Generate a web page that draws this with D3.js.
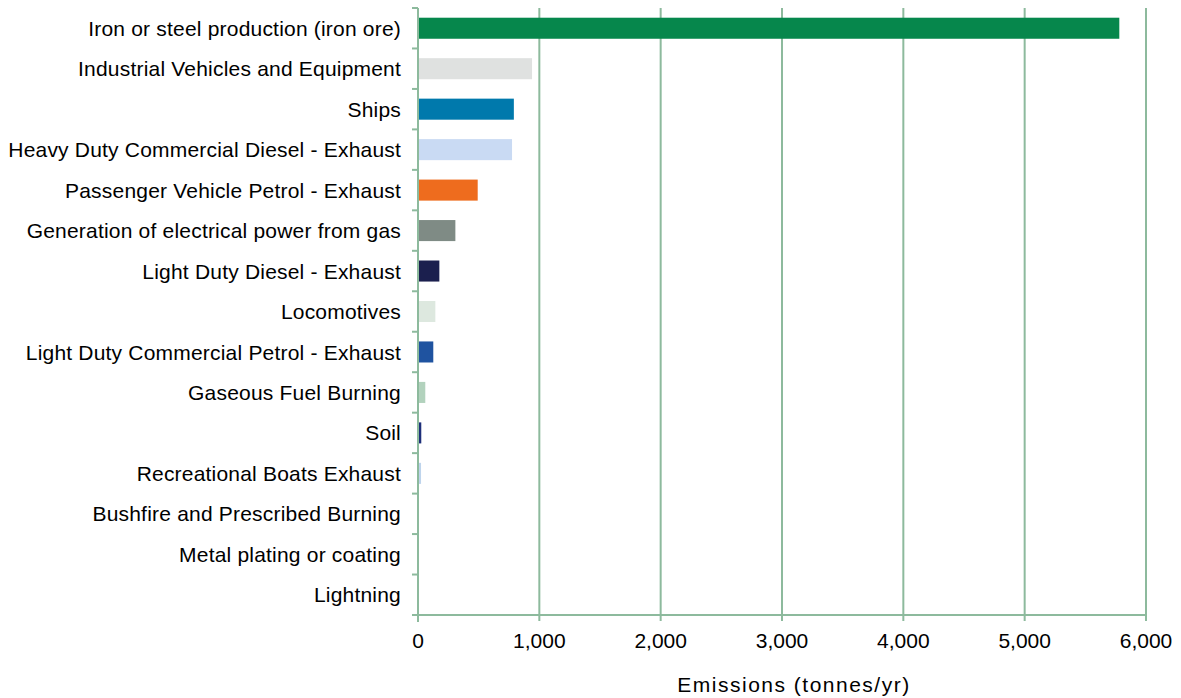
<!DOCTYPE html>
<html><head><meta charset="utf-8">
<script src="https://cdn.jsdelivr.net/npm/d3@7"></script>
<style>body{margin:0;background:#fff;}svg{display:block;font-family:"Liberation Sans",Arial,sans-serif;}</style>
</head><body><svg id="c" width="1181" height="698"></svg>
<script>
const categories = ["Iron or steel production (iron ore)","Industrial Vehicles and Equipment","Ships","Heavy Duty Commercial Diesel - Exhaust","Passenger Vehicle Petrol - Exhaust","Generation of electrical power from gas","Light Duty Diesel - Exhaust","Locomotives","Light Duty Commercial Petrol - Exhaust","Gaseous Fuel Burning","Soil","Recreational Boats Exhaust","Bushfire and Prescribed Burning","Metal plating or coating","Lightning"];
const values = [5780, 940, 790, 775, 492, 308, 176, 143, 126, 60, 27, 25, 1, 0.5, 0.3];
const colors = ["#06874C","#DFE1E0","#0079AC","#C9DAF3","#EE6C1E","#7F8B85","#1B1F4E","#DDE8DF","#1F53A0","#B2D2BD","#1E2F7A","#BED4EC","#E0E0E0","#E0E0E0","#E0E0E0"];
const xTicks = [0,1000,2000,3000,4000,5000,6000];
const xTitle = "Emissions (tonnes/yr)";

const svg = d3.select("#c");
const L = 418, R = 1146, T = 8, B = 615;
const gridColor = "#8DBA9D";
const x = d3.scaleLinear().domain([0,6000]).range([L,R]);
const y = d3.scaleBand().domain(categories).range([T,B]).paddingInner(0.48).paddingOuter(0.24);
const yb = d3.scaleBand().domain(categories).range([T,B]);

// grid
svg.append("g").selectAll("line").data(xTicks.slice(1)).join("line")
  .attr("x1",d=>x(d)).attr("x2",d=>x(d)).attr("y1",T).attr("y2",B)
  .attr("stroke",gridColor).attr("stroke-width",2);

// bars
svg.append("g").selectAll("rect").data(categories).join("rect")
  .attr("x",x(0)+1).attr("y",d=>y(d))
  .attr("width",(d,i)=>Math.max(0,x(values[i])-x(0)-1))
  .attr("height",y.bandwidth())
  .attr("fill",(d,i)=>colors[i]);

// y axis line + ticks
svg.append("line").attr("x1",L).attr("x2",L).attr("y1",T).attr("y2",B+7).attr("stroke",gridColor).attr("stroke-width",2);
const yTickPos = categories.map(c=>yb(c)).concat([B]);
svg.append("g").selectAll("line").data(yTickPos).join("line")
  .attr("x1",L-6).attr("x2",L).attr("y1",d=>d).attr("y2",d=>d)
  .attr("stroke",gridColor).attr("stroke-width",2);
// x axis line + ticks
svg.append("line").attr("x1",L-6).attr("x2",R).attr("y1",B).attr("y2",B).attr("stroke",gridColor).attr("stroke-width",2);
svg.append("g").selectAll("line").data(xTicks).join("line")
  .attr("x1",d=>x(d)).attr("x2",d=>x(d)).attr("y1",B).attr("y2",B+6)
  .attr("stroke",gridColor).attr("stroke-width",2);

// labels
svg.append("g").selectAll("text").data(categories).join("text")
  .attr("x",L-17).attr("y",d=>yb(d)+yb.bandwidth()/2).attr("dy","0.36em")
  .attr("text-anchor","end").attr("font-size",21).attr("fill","#000")
  .attr("letter-spacing","0.2").text(d=>d);
const fmt = d3.format(",");
svg.append("g").selectAll("text").data(xTicks).join("text")
  .attr("x",d=>x(d)).attr("y",648).attr("text-anchor","middle")
  .attr("font-size",21).attr("fill","#000").text(d=>fmt(d));
svg.append("text").attr("x",794).attr("y",692).attr("text-anchor","middle")
  .attr("font-size",21).attr("fill","#000").attr("letter-spacing","1.5").text(xTitle);
</script></body></html>
